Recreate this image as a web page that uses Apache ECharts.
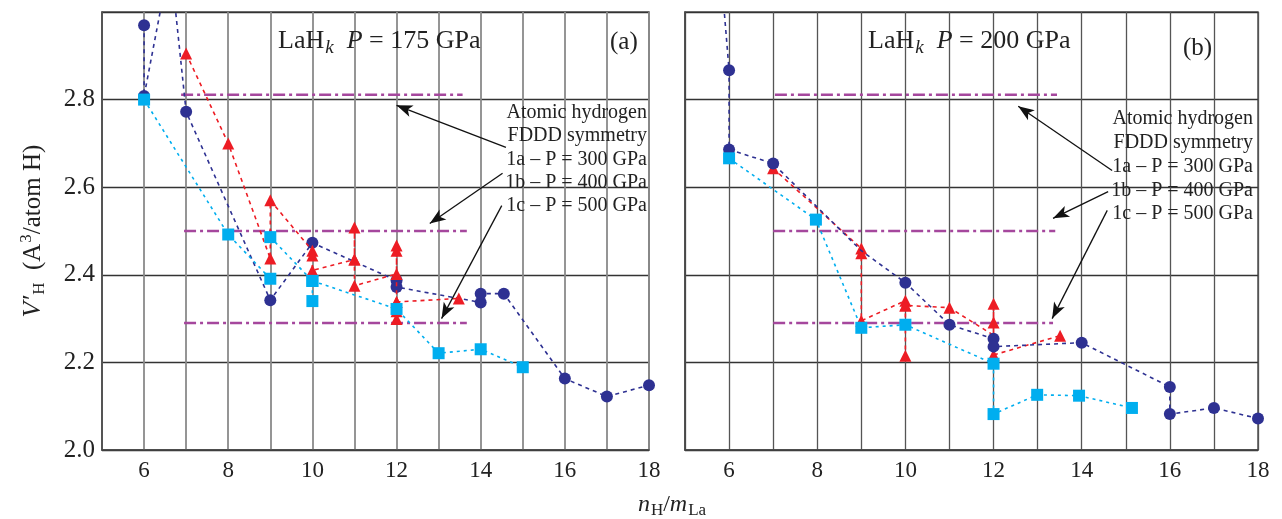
<!DOCTYPE html>
<html><head><meta charset="utf-8">
<script src="https://cdn.jsdelivr.net/npm/echarts@6/dist/echarts.min.js"></script>
<style>html,body{margin:0;padding:0;background:#fff}#c{width:1282px;height:519px}</style>
</head><body><div id="c"></div>
<script>
// ---------- axis settings ----------
const xMin = 5, xMax = 18, xStep = 1;
const yMin = 2.0, yMax = 3.0, yStep = 0.2;
const xTickLabels = [6, 8, 10, 12, 14, 16, 18];
const yTickLabels = [2.0, 2.2, 2.4, 2.6, 2.8];

// ---------- panel (a): P = 175 GPa ----------
const navyA = [[6,2.970],[6,2.808],[6.62,3.12],[7,2.772],[9,2.342],[10,2.473],[12,2.387],[12,2.372],[14,2.337],[14,2.357],[14.55,2.357],[16,2.163],[17,2.122],[18,2.148]];
const redA1 = [[7,2.905],[8,2.700],[9,2.437],[9,2.570],[10,2.455],[10,2.444],[10,2.410],[11,2.435],[11,2.508],[11,2.435],[11,2.375],[12,2.402],[12,2.467],[12,2.455],[12,2.338],[12,2.317],[12,2.299]];
const redA2 = [[12,2.338],[13.48,2.346]];
const cyanA1 = [[6,2.800],[8,2.492],[9,2.391]];
const cyanA2 = [[9,2.486],[10,2.386],[10,2.340]];
const cyanA3 = [[10,2.386],[12,2.322],[13,2.221],[14,2.230],[15,2.189]];
const refA = [[[6.88,2.811],[13.57,2.811]],[[6.95,2.500],[13.67,2.500]],[[6.95,2.290],[13.67,2.290]]];
const arrowsA = [[[14.60,2.691],[12.00,2.787]],[[14.52,2.632],[12.79,2.517]],[[14.50,2.558],[13.07,2.300]]];

// ---------- panel (b): P = 200 GPa ----------
const navyB = [[5.85,3.05],[6,2.867],[6,2.686],[7,2.654],[9,2.455,'hide'],[10,2.382],[11,2.286],[12,2.254],[12,2.236],[14,2.245],[16,2.144],[16,2.082],[17,2.096],[18,2.072]];
const redB1 = [[7,2.643],[9,2.460],[9,2.449],[9,2.295],[10,2.341],[10,2.330],[11,2.325],[12,2.262,'hide'],[12,2.334],[12,2.291],[12,2.217],[13.51,2.261]];
const redB2 = [[10,2.330],[10,2.215]];
const cyanB = [[6,2.666],[7.97,2.526],[9,2.279],[10,2.286],[12,2.197],[12,2.082],[12.99,2.126],[13.94,2.124],[15.14,2.096]];
const refB = [[[7.04,2.811],[13.44,2.811]],[[7.00,2.500],[13.40,2.500]],[[7.00,2.290],[13.35,2.290]]];
const arrowsB = [[[14.69,2.638],[12.56,2.785]],[[14.60,2.590],[13.35,2.529]],[[14.58,2.547],[13.33,2.300]]];

// ---------- texts ----------
const titleA = ['LaH','k','P',' = 175 GPa'];
const titleB = ['LaH','k','P',' = 200 GPa'];
const panelA = '(a)', panelB = '(b)';
const legendLines = ['Atomic hydrogen','FDDD symmetry','1a – P = 300 GPa','1b – P = 400 GPa','1c – P = 500 GPa'];

// ---------- styling ----------
const F = 'Liberation Serif';
const NAVY = '#2e3192', RED = '#ed1c24', CYAN = '#00aeef', PURPLE = '#a5479d';

function pts(arr){
  return arr.map(p => p[2] === 'hide' ? {value:[p[0],p[1]], symbol:'none'} : [p[0],p[1]]);
}
function seg(g, arr, color, symbol, size, dash, z){
  return {type:'line', xAxisIndex:g, yAxisIndex:g, data:pts(arr), symbol:symbol, symbolSize:size,
    showSymbol:true, clip:true, animation:false, silent:true, z:z,
    lineStyle:{color:color, width:1.6, type:dash}, itemStyle:{color:color}};
}
function refSeries(g, lines, arrows){
  const out = [];
  lines.forEach((l,i) => {
    const s = {type:'line', xAxisIndex:g, yAxisIndex:g, data:l, symbol:'none', animation:false, silent:true, z:1,
      lineStyle:{color:PURPLE, width:2.5, type:[12,4,3,4]}};
    if (i === 0) {
      s.markLine = {silent:true, animation:false, symbol:['none','arrow'], symbolSize:[9,16],
        label:{show:false}, lineStyle:{color:'#111', width:1.3, type:'solid'},
        data: arrows.map(a => [{coord:a[0]},{coord:a[1]}])};
    }
    out.push(s);
  });
  return out;
}
function xAx(g, gridColor, gw){
  return {type:'value', gridIndex:g, min:xMin, max:xMax, interval:xStep,
    axisLine:{show:true, onZero:false, lineStyle:{color:'#444', width:1.5}},
    axisTick:{show:false},
    axisLabel:{fontFamily:F, fontSize:23, color:'#222', margin:9,
      formatter: v => xTickLabels.indexOf(v) >= 0 ? String(v) : ''},
    splitLine:{show:true, lineStyle:{color:gridColor, width:gw}}};
}
function yAx(g, showLabels){
  const a = {type:'value', gridIndex:g, min:yMin, max:yMax, interval:yStep,
    axisLine:{show:true, onZero:false, lineStyle:{color:'#444', width:1.5}},
    axisTick:{show:false},
    axisLabel:{show:showLabels, fontFamily:F, fontSize:25, color:'#222', margin:7,
      formatter: v => { const r = Math.round(v*10)/10; return yTickLabels.indexOf(r) >= 0 ? r.toFixed(1) : ''; }},
    splitLine:{show:true, lineStyle:{color:'#333', width:1.3}}};
  if (showLabels) {
    a.name = '{i|V′}{sub|H}{n|  (A}{sup|3}{n|/atom H)}';
    a.nameLocation = 'middle'; a.nameRotate = 90; a.nameGap = 53;
    a.nameTextStyle = {fontFamily:F, fontSize:25, color:'#222', rich:{
      i:{fontFamily:F, fontSize:26, fontStyle:'italic', color:'#222'},
      n:{fontFamily:F, fontSize:25, color:'#222'},
      sub:{fontFamily:F, fontSize:17, color:'#222', padding:[12,0,0,1]},
      sup:{fontFamily:F, fontSize:17, color:'#222', padding:[0,0,14,1]}}};
  }
  return a;
}
function titleText(x, y, t){
  return {type:'text', x:x, y:y, silent:true, z:50, style:{
    text:'{n|'+t[0]+'}{sub|'+t[1]+'}{n|  }{i|'+t[2]+'}{n|'+t[3]+'}',
    align:'left', verticalAlign:'middle', fill:'#222', font:'26px '+F,
    rich:{n:{fontFamily:F, fontSize:26, fill:'#222'}, i:{fontFamily:F, fontSize:26, fontStyle:'italic', fill:'#222'},
      sub:{fontFamily:F, fontSize:19, fontStyle:'italic', fill:'#222', padding:[14,0,0,1]}}}};
}
function plainText(x, y, t, size, align, lh){
  return {type:'text', x:x, y:y, silent:true, z:50, style:{text:t, align:align, verticalAlign:'top',
    fill:'#222', font:size+'px '+F, lineHeight:lh}};
}

const chart = echarts.init(document.getElementById('c'), null, {renderer:'canvas'});
chart.setOption({
  backgroundColor:'#fff',
  animation:false,
  grid:[
    {left:102, top:12, width:547, height:438, show:true, borderColor:'#555', borderWidth:1.5, containLabel:false},
    {left:685, top:12, width:573, height:438, show:true, borderColor:'#555', borderWidth:1.5, containLabel:false}
  ],
  xAxis:[xAx(0,'#8a8a8a',1.8), xAx(1,'#555',1.3)],
  yAxis:[yAx(0,true), yAx(1,false)],
  series:[].concat(
    refSeries(0, refA, arrowsA),
    [seg(0, navyA, NAVY, 'circle', 12, [4,4], 3),
     seg(0, redA1, RED, 'triangle', 12, [4,4], 4),
     seg(0, redA2, RED, 'triangle', 12, [4,4], 4),
     seg(0, cyanA1, CYAN, 'rect', 12, [3,4], 5),
     seg(0, cyanA2, CYAN, 'rect', 12, [3,4], 5),
     seg(0, cyanA3, CYAN, 'rect', 12, [3,4], 5)],
    refSeries(1, refB, arrowsB),
    [seg(1, redB1, RED, 'triangle', 12, [4,4], 3),
     seg(1, redB2, RED, 'triangle', 12, [4,4], 3),
     seg(1, navyB, NAVY, 'circle', 12, [4,4], 4),
     seg(1, cyanB, CYAN, 'rect', 12, [3,4], 5)]
  ),
  graphic:[
    titleText(278, 41, titleA),
    titleText(868, 41, titleB),
    plainText(610, 28, panelA, 25, 'left', 28),
    plainText(1183, 34, panelB, 25, 'left', 28),
    plainText(647, 101, legendLines.join('\n'), 20, 'right', 23.3),
    plainText(1253, 107, legendLines.join('\n'), 20, 'right', 23.8),
    {type:'text', x:672, y:505, silent:true, z:50, style:{
      text:'{i|n}{sub|H}{n|/}{i|m}{sub|La}', align:'center', verticalAlign:'middle', fill:'#222', font:'24px '+F,
      rich:{i:{fontFamily:F, fontSize:24, fontStyle:'italic', fill:'#222'}, n:{fontFamily:F, fontSize:24, fill:'#222'},
        sub:{fontFamily:F, fontSize:17, fill:'#222', padding:[12,0,0,1]}}}}
  ]
});
</script>
</body></html>
